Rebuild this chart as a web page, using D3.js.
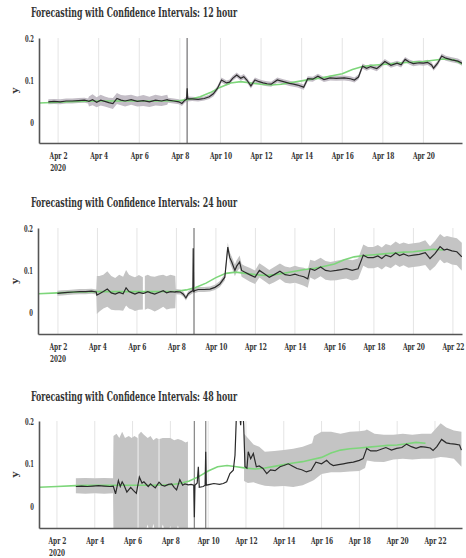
<!DOCTYPE html>
<html>
<head>
<meta charset="utf-8">
<script src="https://cdn.jsdelivr.net/npm/d3@7"></script>
<style>
  body { margin: 0; background: #fff; }
  text { font-family: "DejaVu Serif", serif; font-weight: bold; fill: #333; }
</style>
</head>
<body>
<svg id="chart" width="466" height="558"></svg>
<script>
// day of April 2020 (fractional), value
const titles = ['Forecasting with Confidence Intervals: 12 hour',
                'Forecasting with Confidence Intervals: 24 hour',
                'Forecasting with Confidence Intervals: 48 hour'];
const tickDays = [2, 4, 6, 8, 10, 12, 14, 16, 18, 20, 22];
const yTicks = [0, 0.1, 0.2];
const xStart = [1.06, 0.99, 1.05];
const xEnd = [21.9, 22.46, 23.43];
const greenEnd = [21.9, 21.5, 21.5];

// actual (green)
const actual = [[1.0,0.045],[2.0,0.047],[3.0,0.049],[4.0,0.05],[5.0,0.05],[6.0,0.05],[7.0,0.05],[8.0,0.051],
  [8.5,0.054],[9.0,0.06],[9.5,0.07],[10.0,0.083],[10.5,0.093],[11.0,0.096],[11.5,0.093],[12.0,0.09],
  [12.5,0.088],[13.0,0.09],[13.5,0.094],[14.0,0.098],[14.5,0.102],[15.0,0.105],[15.5,0.11],[16.0,0.115],
  [16.5,0.125],[17.0,0.132],[17.5,0.135],[18.0,0.137],[18.5,0.139],[19.0,0.141],[19.5,0.143],[20.0,0.144],
  [20.5,0.147],[21.0,0.15],[21.5,0.148],[21.9,0.138]];

// forecast: [day, value, CI half width]
const fc12 = [[1.52,0.048,0.006],[1.8,0.049,0.006],[2.1,0.048,0.006],[2.4,0.05,0.006],[2.7,0.05,0.006],[3.0,0.051,0.006],
  [3.3,0.052,0.006],[3.48,0.05,0.006],[3.52,0.049,0.012],[3.7,0.053,0.013],[3.9,0.047,0.012],[4.1,0.052,0.013],
  [4.3,0.049,0.012],[4.5,0.046,0.012],[4.7,0.044,0.013],[4.9,0.056,0.013],[5.1,0.052,0.012],[5.3,0.05,0.013],
  [5.6,0.053,0.012],[5.9,0.049,0.012],[6.2,0.051,0.013],[6.5,0.048,0.012],[6.8,0.052,0.013],[7.1,0.05,0.012],
  [7.38,0.053,0.012],[7.42,0.052,0.006],[7.7,0.05,0.006],[7.95,0.048,0.006],[8.1,0.044,0.006],[8.25,0.052,0.006],
  [8.33,0.054,0.006],[8.36,0.08,1],[8.39,0.055,0.006],[8.6,0.055,0.005],[8.9,0.054,0.005],[9.2,0.056,0.005],
  [9.45,0.06,0.005],[9.65,0.067,0.006],[9.85,0.08,0.006],[10.05,0.1,0.006],[10.3,0.093,0.006],[10.45,0.095,0.006],
  [10.6,0.104,0.006],[10.8,0.112,0.006],[11.0,0.104,0.006],[11.15,0.108,0.006],[11.3,0.1,0.006],[11.5,0.086,0.006],
  [11.7,0.1,0.006],[11.9,0.096,0.006],[12.1,0.093,0.006],[12.3,0.091,0.006],[12.5,0.09,0.006],[12.8,0.1,0.006],
  [13.1,0.096,0.006],[13.4,0.092,0.006],[13.6,0.09,0.006],[13.8,0.088,0.006],[14.1,0.083,0.006],[14.3,0.103,0.006],
  [14.55,0.102,0.006],[14.8,0.109,0.006],[15.1,0.101,0.006],[15.4,0.105,0.006],[15.7,0.104,0.006],[16.1,0.105,0.006],
  [16.4,0.103,0.006],[16.6,0.1,0.006],[16.8,0.107,0.006],[17.0,0.133,0.006],[17.2,0.128,0.006],[17.4,0.132,0.006],
  [17.7,0.127,0.006],[17.9,0.135,0.006],[18.1,0.144,0.006],[18.4,0.135,0.006],[18.7,0.14,0.006],[18.9,0.136,0.006],
  [19.1,0.149,0.006],[19.3,0.143,0.006],[19.5,0.139,0.006],[19.8,0.141,0.006],[20.0,0.14,0.006],[20.2,0.142,0.006],
  [20.4,0.136,0.006],[20.5,0.128,0.006],[20.7,0.14,0.006],[20.9,0.157,0.006],[21.1,0.152,0.006],[21.4,0.148,0.006],
  [21.7,0.145,0.006],[21.9,0.14,0.006],[22.0,0.132,0.006]];

const fc24 = [[1.97,0.046,0.006],[2.2,0.047,0.006],[2.5,0.048,0.006],[2.8,0.049,0.006],[3.1,0.05,0.006],[3.4,0.05,0.006],
  [3.7,0.051,0.006],[3.94,0.049,0.006],[3.97,0.042,0.045],[4.1,0.045,0.042],[4.3,0.05,0.04],[4.5,0.056,0.042],
  [4.7,0.047,0.04],[4.9,0.044,0.038],[5.1,0.048,0.042],[5.3,0.045,0.04],[5.45,0.059,0.042],[5.6,0.05,0.04],
  [5.75,0.047,0.039],[5.9,0.044,0.04],[6.1,0.048,0.041],[6.3,0.046,0.038],[6.34,0.046,null],[6.4,0.047,0.04],
  [6.55,0.05,0.04],[6.7,0.047,0.039],[6.9,0.044,0.041],[7.1,0.048,0.04],[7.33,0.052,0.038],[7.5,0.047,0.039],
  [7.7,0.05,0.04],[7.94,0.049,0.038],[7.97,0.05,0.006],[8.2,0.049,0.006],[8.35,0.044,0.006],[8.48,0.035,0.006],
  [8.6,0.045,0.006],[8.75,0.05,0.006],[8.83,0.052,0.006],[8.85,0.152,0.006],[8.87,0.05,0.006],[8.89,0.05,1],
  [8.91,0.052,0.006],[9.1,0.055,0.006],[9.4,0.055,0.006],[9.7,0.056,0.006],[9.95,0.06,0.006],[10.2,0.068,0.007],
  [10.45,0.084,0.008],[10.6,0.155,0.01],[10.7,0.13,0.012],[10.8,0.12,0.013],[10.96,0.1,0.014],[11.05,0.11,0.014],
  [11.2,0.12,0.015],[11.3,0.1,0.015],[11.45,0.096,0.015],[11.7,0.09,0.016],[11.98,0.084,0.016],[12.2,0.1,0.017],
  [12.45,0.092,0.017],[12.7,0.084,0.017],[12.95,0.09,0.018],[13.24,0.098,0.018],[13.5,0.09,0.019],[13.75,0.088,0.019],
  [14.0,0.091,0.02],[14.2,0.088,0.02],[14.45,0.085,0.021],[14.65,0.08,0.021],[14.77,0.104,0.021],[15.0,0.1,0.022],
  [15.3,0.108,0.022],[15.55,0.1,0.022],[15.8,0.098,0.022],[16.1,0.1,0.023],[16.35,0.102,0.023],[16.6,0.104,0.023],
  [16.9,0.1,0.024],[17.2,0.104,0.024],[17.46,0.136,0.025],[17.7,0.13,0.025],[17.97,0.13,0.025],[18.2,0.134,0.026],
  [18.4,0.128,0.026],[18.6,0.136,0.026],[18.85,0.132,0.027],[19.1,0.141,0.027],[19.3,0.135,0.027],[19.5,0.139,0.027],
  [19.75,0.134,0.028],[20.0,0.136,0.028],[20.3,0.138,0.028],[20.6,0.142,0.029],[20.84,0.128,0.029],[21.1,0.14,0.03],
  [21.35,0.156,0.03],[21.55,0.148,0.031],[21.7,0.15,0.031],[21.95,0.146,0.032],[22.2,0.144,0.032],[22.45,0.132,0.033]];

// 48 hour: forecast [day, value] and interval [day, lower, upper]
const fc48 = [[3.0,0.047],[3.3,0.048],[3.6,0.047],[3.9,0.048],[4.2,0.049],[4.5,0.048],[4.8,0.047],[4.98,0.048],
  [5.1,0.03],[5.25,0.061],[5.35,0.047],[5.45,0.058],[5.55,0.05],[5.7,0.034],[5.9,0.045],[6.04,0.038],[6.2,0.031],
  [6.36,0.069],[6.5,0.055],[6.6,0.058],[6.83,0.047],[6.95,0.053],[7.05,0.049],[7.2,0.044],[7.4,0.057],[7.55,0.05],
  [7.7,0.048],[7.9,0.052],[8.07,0.053],[8.2,0.045],[8.33,0.039],[8.5,0.063],[8.65,0.05],[8.77,0.053],[8.95,0.051],
  [9.1,0.052],[9.24,0.05],[9.27,-0.025],[9.3,0.05],[9.42,0.055],[9.48,0.093],[9.53,0.045],[9.74,0.047],[9.84,0.05],
  [9.87,0.128],[9.9,0.05],[10.1,0.052],[10.3,0.054],[10.6,0.052],[10.8,0.054],[10.98,0.058],[11.15,0.077],
  [11.33,0.085],[11.42,0.12],[11.5,0.22],[11.6,0.25],[11.72,0.19],[11.8,0.25],[11.88,0.19],[11.95,0.093],
  [12.05,0.09],[12.12,0.128],[12.25,0.112],[12.39,0.124],[12.55,0.093],[12.7,0.095],[12.9,0.089],[13.1,0.077],
  [13.3,0.086],[13.54,0.084],[13.8,0.093],[14.0,0.096],[14.24,0.1],[14.45,0.095],[14.7,0.089],[14.95,0.086],
  [15.2,0.081],[15.45,0.085],[15.7,0.104],[16.0,0.1],[16.27,0.108],[16.45,0.1],[16.62,0.096],[16.9,0.098],
  [17.15,0.1],[17.4,0.102],[17.68,0.104],[18.0,0.108],[18.2,0.112],[18.39,0.136],[18.6,0.13],[18.9,0.13],
  [19.15,0.134],[19.4,0.138],[19.7,0.132],[19.97,0.136],[20.25,0.138],[20.5,0.146],[20.75,0.14],[21.0,0.136],
  [21.25,0.14],[21.5,0.139],[21.75,0.137],[21.9,0.131],[22.1,0.14],[22.35,0.157],[22.6,0.149],[22.8,0.147],
  [23.05,0.146],[23.3,0.144],[23.4,0.132]];

const ci48 = [[3.0,0.031,0.066],[3.5,0.03,0.067],[4.0,0.031,0.066],[4.5,0.03,0.067],[4.97,0.031,0.066],
  [4.99,-0.07,0.165],[5.15,-0.07,0.17],[5.3,-0.065,0.16],[5.45,-0.07,0.175],[5.6,-0.06,0.16],[5.8,-0.07,0.165],
  [5.95,-0.065,0.16],[6.1,-0.07,0.165],[6.27,-0.06,0.16],[6.29,null,null],[6.31,-0.07,0.168],[6.45,-0.065,0.175],
  [6.6,-0.07,0.168],[6.8,-0.042,0.16],[6.95,-0.07,0.165],[7.1,-0.04,0.155],[7.25,-0.07,0.16],[7.38,-0.065,0.158],
  [7.4,null,null],[7.42,-0.07,0.158],[7.6,-0.042,0.16],[7.8,-0.07,0.16],[8.0,-0.045,0.16],[8.2,-0.07,0.155],
  [8.4,-0.044,0.158],[8.6,-0.07,0.155],[8.8,-0.05,0.15],[8.93,-0.07,0.152],[8.95,null,null],
  [9.27,-1,1],[9.3,null,null],[9.87,-1,1],[9.9,null,null],
  [11.9,0.06,0.17],[12.1,0.055,0.16],[12.4,0.057,0.145],[12.7,0.052,0.14],[13.0,0.049,0.128],[13.5,0.047,0.13],
  [14.0,0.048,0.132],[14.5,0.046,0.135],[15.0,0.05,0.14],[15.5,0.06,0.148],[15.6,0.062,0.165],[16.0,0.076,0.175],
  [16.5,0.08,0.175],[17.0,0.08,0.17],[17.5,0.082,0.175],[18.0,0.083,0.176],[18.3,0.09,0.178],[18.4,0.108,0.18],
  [18.8,0.105,0.17],[19.3,0.104,0.168],[19.8,0.11,0.168],[20.3,0.112,0.17],[20.8,0.11,0.168],[21.3,0.112,0.17],
  [21.8,0.112,0.17],[22.3,0.116,0.195],[22.6,0.115,0.185],[23.0,0.112,0.178],[23.4,0.093,0.175]];

const toBand = fc => fc.map(p => p[2] == null ? [p[0], null, null] : [p[0], p[1] - p[2], p[1] + p[2]]);

const panels = [
  {line: fc12, band: toBand(fc12), top: 38, bottom: 143, left: 39, right: 462, titleY: 17},
  {line: fc24, band: toBand(fc24), top: 228, bottom: 334, left: 38, right: 462, titleY: 207},
  {line: fc48, band: ci48, top: 421, bottom: 528, left: 39, right: 462, titleY: 401}
];

const svg = d3.select('#chart');
const t0 = Date.UTC(2020, 3, 1);
const toDate = d => new Date(t0 + (d - 1) * 864e5);

// squeeze text horizontally to mimic the condensed face
function condense(sel, k) {
  sel.each(function() {
    const w = this.getComputedTextLength();
    d3.select(this).attr('textLength', w * k).attr('lengthAdjust', 'spacingAndGlyphs');
  });
}

panels.forEach((p, i) => {
  const g = svg.append('g');
  const x = d3.scaleUtc().domain([toDate(xStart[i]), toDate(xEnd[i])]).range([p.left, p.right]);
  const y = d3.scaleLinear().domain([-0.05, 0.2]).range([p.bottom, p.top]);
  const ticks = tickDays.filter(d => d >= xStart[i] && d <= xEnd[i]).map(toDate);

  const clipId = 'clip' + i;
  svg.append('clipPath').attr('id', clipId).append('rect')
    .attr('x', p.left).attr('y', p.top).attr('width', p.right - p.left).attr('height', p.bottom - p.top);

  // grid
  g.selectAll('line.grid').data(ticks).enter().append('line')
    .attr('x1', d => x(d)).attr('x2', d => x(d))
    .attr('y1', p.top).attr('y2', p.bottom)
    .attr('stroke', '#e4e4e4').attr('stroke-width', 1);

  const plot = g.append('g').attr('clip-path', `url(#${clipId})`);

  // confidence band
  const area = d3.area()
    .defined(d => d[1] != null)
    .x(d => x(toDate(d[0])))
    .y0(d => y(d[1]))
    .y1(d => y(d[2]));
  plot.append('path').datum(p.band).attr('d', area)
    .attr('fill', i === 0 ? '#c3bdc6' : '#c4c4c4');

  // very wide intervals show up as vertical bars
  plot.selectAll('line.spike').data(p.band.filter(d => d[1] != null && d[2] - d[1] > 1)).enter()
    .append('line')
    .attr('x1', d => x(toDate(d[0]))).attr('x2', d => x(toDate(d[0])))
    .attr('y1', d => y(d[1])).attr('y2', d => y(d[2]))
    .attr('stroke', '#8c8c8c').attr('stroke-width', 1.3);

  const line = d3.line().x(d => x(toDate(d[0]))).y(d => y(d[1]));

  plot.append('path').datum(actual.filter(d => d[0] <= greenEnd[i])).attr('d', line)
    .attr('fill', 'none').attr('stroke', '#7dd67a').attr('stroke-width', 1.6);

  plot.append('path').datum(p.line).attr('d', line)
    .attr('fill', 'none').attr('stroke', '#2a2a2a').attr('stroke-width', 1.2);

  // axes
  const yAxis = g.append('g').attr('transform', `translate(${p.left},0)`)
    .call(d3.axisLeft(y).tickValues(yTicks).tickSize(0).tickPadding(5)
      .tickFormat(d => d === 0 ? '0' : d3.format('.1f')(d)));
  yAxis.select('.domain').attr('stroke', '#555').attr('stroke-width', 1.6);
  yAxis.selectAll('text').attr('font-size', 9.5).attr('font-family', null).attr('fill', '#333').call(condense, 0.55);

  const xAxis = g.append('g').attr('transform', `translate(0,${p.bottom})`)
    .call(d3.axisBottom(x).tickValues(ticks).tickSize(0).tickPadding(9)
      .tickFormat(d3.utcFormat('%b %-d')));
  xAxis.select('.domain').attr('stroke', '#555').attr('stroke-width', 1.6);
  xAxis.selectAll('text').attr('font-size', 9.5).attr('font-family', null).attr('fill', '#333').call(condense, 0.62);
  xAxis.append('text').attr('x', x(ticks[0])).attr('y', 28).attr('fill', '#333')
    .attr('text-anchor', 'middle').attr('font-size', 9.5).text('2020').call(condense, 0.6);

  g.append('text')
    .attr('transform', `translate(18,${(p.top + p.bottom) / 2}) rotate(-90)`)
    .attr('text-anchor', 'middle').attr('font-size', 10).text('y');

  g.append('text').attr('x', 31).attr('y', p.titleY)
    .attr('font-size', 12).text(titles[i])
    .attr('textLength', 206).attr('lengthAdjust', 'spacingAndGlyphs');
});
</script>
</body>
</html>
